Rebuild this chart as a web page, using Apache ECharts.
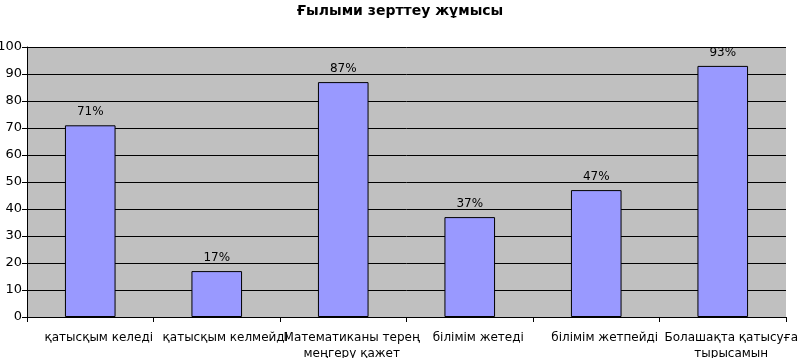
<!DOCTYPE html>
<html><head><meta charset="utf-8">
<script src="https://cdn.jsdelivr.net/npm/echarts@6/dist/echarts.min.js"></script>
<style>html,body{margin:0;padding:0;background:#fff}#c{width:800px;height:358px}</style>
</head><body><div id="c"></div>
<script>
const titleText = 'Ғылыми зерттеу жұмысы';
const categories = ['қатысқым келеді', 'қатысқым келмейді', 'Математиканы терең\nмеңгеру қажет', 'білімім жетеді', 'білімім жетпейді', 'Болашақта қатысуға\nтырысамын'];
const values = [71, 17, 87, 37, 47, 93];
const yTicks = [0, 10, 20, 30, 40, 50, 60, 70, 80, 90, 100];

const chart = echarts.init(document.getElementById('c'), null, {renderer: 'canvas'});
chart.setOption({
  animation: false,
  backgroundColor: '#ffffff',
  title: {
    text: titleText, left: 'center', top: -1,
    textStyle: {fontFamily: 'DejaVu Sans', fontSize: 14, fontWeight: 'bold', color: '#000'}
  },
  grid: {left: 27, right: 14, top: 47, bottom: 41, show: true, backgroundColor: '#c0c0c0', borderWidth: 0, containLabel: false, outerBoundsMode: 'none'},
  xAxis: {
    type: 'category', data: categories,
    axisLine: {lineStyle: {color: '#000', width: 1}},
    axisTick: {show: true, alignWithLabel: false, length: 5, lineStyle: {color: '#000'}},
    axisLabel: {interval: 0, fontFamily: 'DejaVu Sans', fontSize: 12, color: '#000', margin: 13, lineHeight: 16, padding: [0, 0, 0, 17]}
  },
  yAxis: {
    type: 'value', min: yTicks[0], max: yTicks[yTicks.length - 1], interval: 10,
    axisLine: {show: true, lineStyle: {color: '#000', width: 1}},
    axisTick: {show: true, length: 5, lineStyle: {color: '#000'}},
    axisLabel: {fontFamily: 'DejaVu Sans', fontSize: 13, color: '#000', margin: 5},
    splitLine: {show: true, lineStyle: {color: '#000', width: 1}}
  },
  series: [{
    type: 'bar', data: values, barWidth: '40%',
    itemStyle: {color: '#9999ff', borderColor: '#000', borderWidth: 1},
    label: {show: true, position: 'top', formatter: '{c}%', fontFamily: 'DejaVu Sans', fontSize: 12, color: '#000', distance: 7}
  }]
});
</script></body></html>
